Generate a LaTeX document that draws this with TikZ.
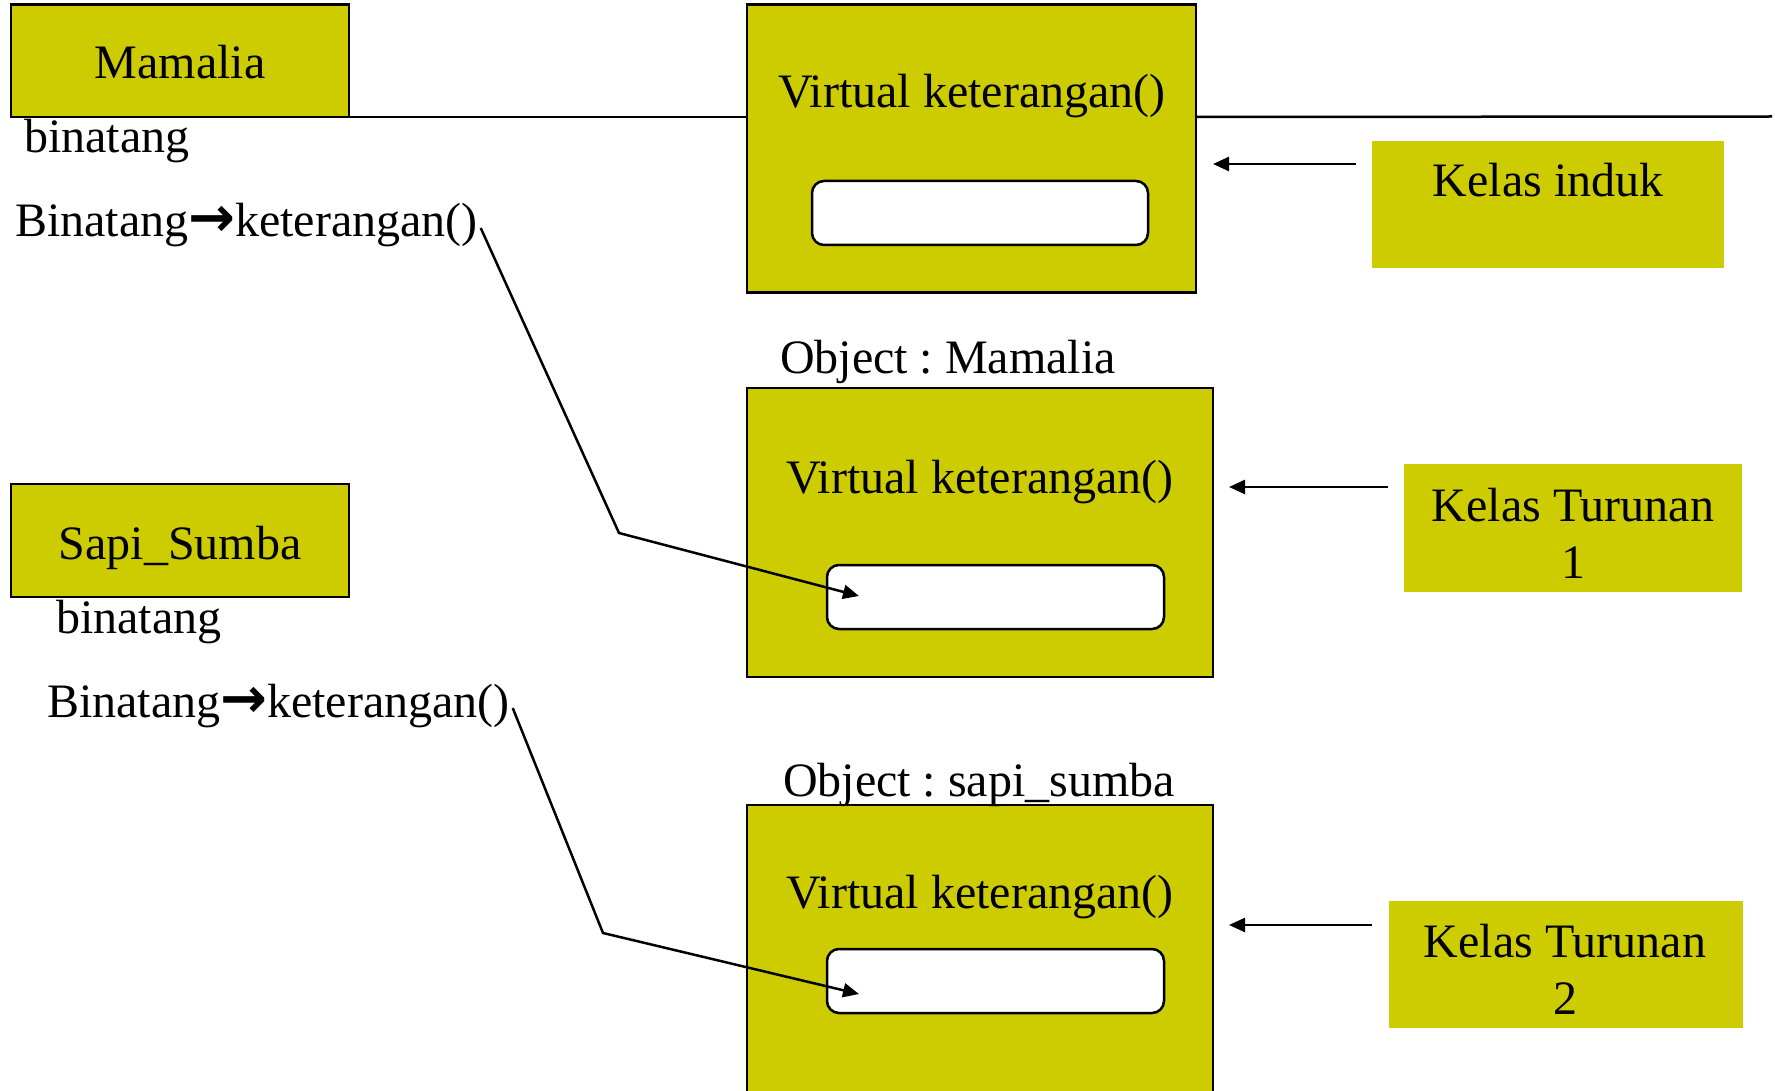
\documentclass[tikz,border=0pt]{standalone}
\usepackage{fontspec}
\setmainfont{Liberation Serif}
\newfontfamily\arrowfont{DejaVu Sans}
\usetikzlibrary{arrows.meta,calc}
\definecolor{boxfill}{HTML}{CCCC00}
\newcommand{\bigarrow}{{\arrowfont\bfseries\fontsize{56}{56}\selectfont →}}
\frenchspacing
\begin{document}
\begin{tikzpicture}[x=1pt,y=-1pt,
  box/.style={draw=black,line width=2.5pt,fill=boxfill,anchor=north west,inner sep=0pt,outer sep=0pt},
  tagbox/.style={fill=boxfill,anchor=north west,inner sep=0pt,outer sep=0pt},
  slot/.style={draw=black,line width=2.5pt,fill=white,rounded corners=12pt,anchor=north west,inner sep=0pt,outer sep=0pt},
  lbl/.style={inner sep=0pt,outer sep=0pt,font=\fontsize{48}{57}\selectfont},
  conn/.style={line width=2.5pt},
  arr/.style={line width=2.5pt,-{Triangle[length=16pt,width=14pt]}},
]
\clip (0,0) rectangle (1775,1091);
\fill[white] (0,0) rectangle (1775,1091);

% boxes
\node[box,minimum width=338pt,minimum height=112.5pt] (mam) at (11,4.5) {};
\node[box,minimum width=449pt,minimum height=288pt] (vt1) at (747,4.5) {};
\node[slot,minimum width=336pt,minimum height=64pt] (slot1) at (812,181) {};
\node[tagbox,minimum width=352pt,minimum height=127pt] (ki) at (1372,141) {};

\node[box,minimum width=466pt,minimum height=289pt] (vt2) at (747,388) {};
\node[slot,minimum width=337pt,minimum height=64pt] (slot2) at (827,565) {};
\node[tagbox,minimum width=338pt,minimum height=128pt] (kt1) at (1404,464) {};

\node[box,minimum width=338pt,minimum height=113pt] (sapi) at (11,484) {};
\node[box,minimum width=466pt,minimum height=330pt] (vt3) at (747,805) {};
\node[slot,minimum width=337pt,minimum height=64pt] (slot3) at (827,949) {};
\node[tagbox,minimum width=354pt,minimum height=127pt] (kt2) at (1389,901) {};

% labels
\node[lbl,anchor=base] (mamT) at (180,79) {Mamalia};
\node[lbl,anchor=base west] (bin1) at (24,153) {binatang};
\node[lbl,anchor=base west] (bk1) at (15,237) {Binatang\bigarrow keterangan()};
\node[lbl,anchor=base] (vt1T) at (972,108) {Virtual keterangan()};
\node[lbl,anchor=base] (kiT) at (1548,197) {Kelas induk};

\node[lbl,anchor=base west] (objM) at (780,373) {Object : Mamalia};
\node[lbl,anchor=base] (vt2T) at (980,493) {Virtual keterangan()};
\node[lbl,anchor=north,align=center] (kt1T) at (1573,488) {Kelas Turunan\\1};

\node[lbl,anchor=base] (sapiT) at (180,559) {Sapi\_Sumba};
\node[lbl,anchor=base west] (bin2) at (56,633) {binatang};
\node[lbl,anchor=base west] (bk2) at (47,717) {Binatang\bigarrow keterangan()};
\node[lbl,anchor=base west] (objS) at (783,796) {Object : sapi\_sumba};
\node[lbl,anchor=base] (vt3T) at (980,908) {Virtual keterangan()};
\node[lbl,anchor=north,align=center] (kt2T) at (1565,924) {Kelas Turunan\\2};

% horizontal rule
\coordinate (ruleEnd) at (1772,116.5);
\draw[conn] (mam.south east) -- (mam.south east -| vt1.west);
\draw[conn] (vt1.east |- mam.south east) -- (ruleEnd);

% pointer connectors
\coordinate (c1s) at ($(bk1.base east)+(3,-9)$);
\coordinate (c1b) at (619,533);
\draw[arr] (c1s) -- (c1b) -- ($(slot2.west)+(32,-1)$);
\coordinate (c2s) at ($(bk2.base east)+(3,-9)$);
\coordinate (c2b) at (603,933);
\draw[arr] (c2s) -- (c2b) -- ($(slot3.west)+(32,13)$);

% class arrows
\coordinate (a1) at (1356,164);
\draw[arr] (a1) -- ($(a1 -| vt1.east)+(17,0)$);
\coordinate (a2) at (1388,487);
\draw[arr] (a2) -- ($(a2 -| vt2.east)+(16,0)$);
\coordinate (a3) at (1372,925);
\draw[arr] (a3) -- ($(a3 -| vt3.east)+(16,0)$);
\end{tikzpicture}
\end{document}
